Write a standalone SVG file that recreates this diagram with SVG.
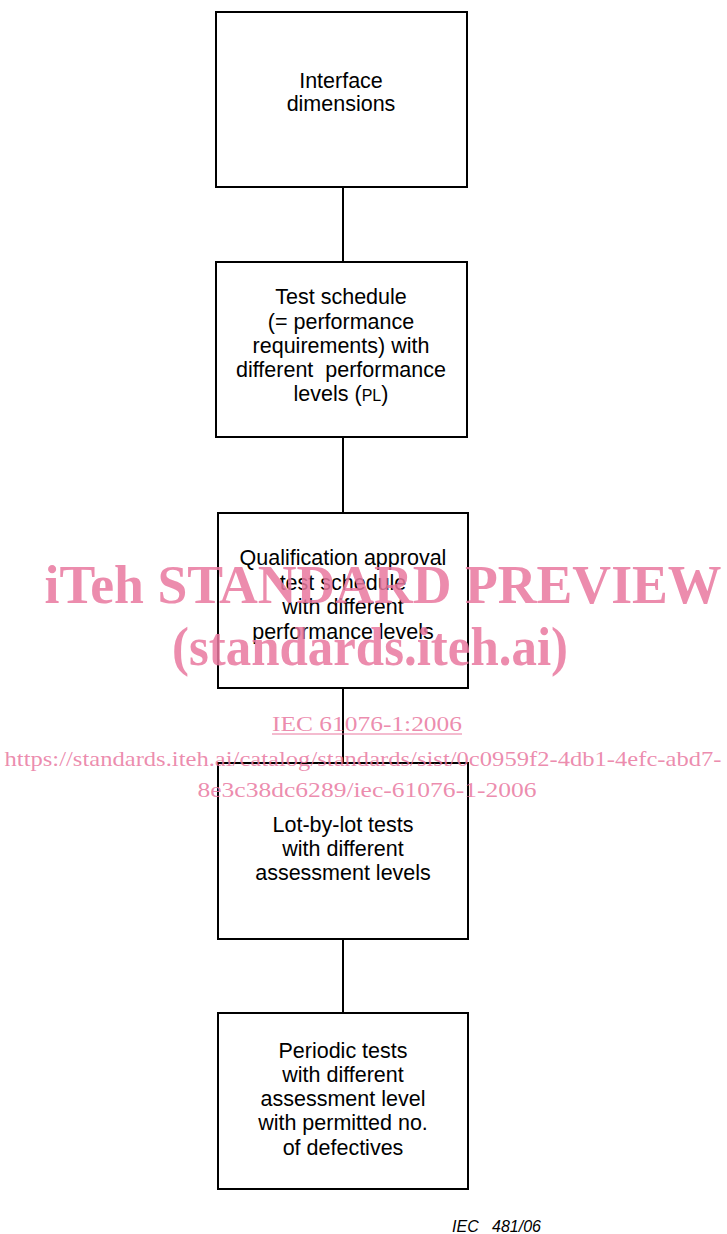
<svg xmlns="http://www.w3.org/2000/svg" width="727" height="1234" viewBox="0 0 727 1234">
<style>
.box{fill:#fff;stroke:#000;stroke-width:2}
.t{font-family:"Liberation Sans",Arial,sans-serif;font-size:21.5px;fill:#000;text-anchor:middle}
.c{stroke:#000;stroke-width:2;fill:none}
.wm{font-family:"Liberation Serif","Times New Roman",serif;fill:#e9789f;fill-opacity:0.85;text-anchor:middle}
</style>
<rect width="727" height="1234" fill="#fff"/>
<g id="connectors">
<line class="c" x1="343" y1="187" x2="343" y2="262"/>
<line class="c" x1="343" y1="437" x2="343" y2="513"/>
<line class="c" x1="343" y1="688" x2="343" y2="763"/>
<line class="c" x1="343" y1="939" x2="343" y2="1013"/>
</g>
<g id="n1">
<rect class="box" x="216" y="12" width="251" height="175"/>
<text class="t" x="341" y="88">Interface</text>
<text class="t" x="341" y="111">dimensions</text>
</g>
<g id="n2">
<rect class="box" x="216" y="262" width="251" height="175"/>
<text class="t" x="341" y="304">Test schedule</text>
<text class="t" x="341" y="329">(= performance</text>
<text class="t" x="341" y="353">requirements) with</text>
<text class="t" x="341" y="377" xml:space="preserve">different  performance</text>
<text class="t" x="341" y="401">levels (<tspan font-size="16">PL</tspan>)</text>
</g>
<g id="n3">
<rect class="box" x="218" y="513" width="250" height="175"/>
<text class="t" x="343" y="565">Qualification approval</text>
<text class="t" x="343" y="590">test schedule</text>
<text class="t" x="343" y="614">with different</text>
<text class="t" x="343" y="639">performance levels</text>
</g>
<g id="n4">
<rect class="box" x="218" y="763" width="250" height="176"/>
<text class="t" x="343" y="832">Lot-by-lot tests</text>
<text class="t" x="343" y="856">with different</text>
<text class="t" x="343" y="880">assessment levels</text>
</g>
<g id="n5">
<rect class="box" x="218" y="1013" width="250" height="176"/>
<text class="t" x="343" y="1058">Periodic tests</text>
<text class="t" x="343" y="1082">with different</text>
<text class="t" x="343" y="1106">assessment level</text>
<text class="t" x="343" y="1130">with permitted no.</text>
<text class="t" x="343" y="1155">of defectives</text>
</g>
<text x="541" y="1232" font-family="Liberation Sans,Arial,sans-serif" font-size="16" font-style="italic" text-anchor="end" xml:space="preserve">IEC   481/06</text>
<g id="watermark">
<text class="wm" x="383" y="603" font-size="54" font-weight="bold" textLength="677" lengthAdjust="spacingAndGlyphs">iTeh STANDARD PREVIEW</text>
<text class="wm" x="370" y="665" font-size="54" font-weight="bold" textLength="396" lengthAdjust="spacingAndGlyphs">(standards.iteh.ai)</text>
<text class="wm" x="367" y="731" font-size="22" textLength="190" lengthAdjust="spacingAndGlyphs">IEC 61076-1:2006</text>
<line x1="272" y1="734" x2="462" y2="734" stroke="#e9789f" stroke-width="1.2"/>
<text class="wm" x="363" y="766" font-size="22" textLength="717" lengthAdjust="spacingAndGlyphs">https://standards.iteh.ai/catalog/standards/sist/0c0959f2-4db1-4efc-abd7-</text>
<text class="wm" x="367" y="797" font-size="22" textLength="339" lengthAdjust="spacingAndGlyphs">8e3c38dc6289/iec-61076-1-2006</text>
</g>
</svg>
